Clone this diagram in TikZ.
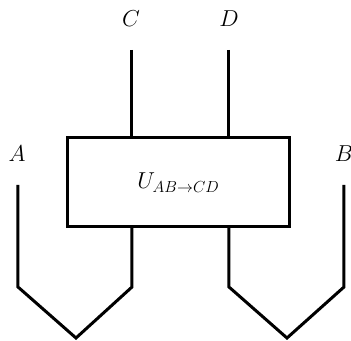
\documentclass[tikz,border=0pt]{standalone}
\usepackage{amsmath,amssymb}
\usetikzlibrary{positioning}
\tikzset{
  wire/.style={line width=2.25pt,line join=miter},
  gatebox/.style={draw,line width=2.25pt,minimum width=167pt,minimum height=66.75pt,inner sep=0pt,outer sep=0pt,font=\fontsize{17}{20}\selectfont},
  lbl/.style={font=\fontsize{17}{20}\selectfont,inner sep=0pt},
}

\begin{document}
\begin{tikzpicture}[x=0.75pt,y=-0.75pt]
    \useasboundingbox (0,0) rectangle (351,341);
    \node[gatebox] (U) at (178.5,182.5) {$U_{AB\rightarrow CD}$};
    % outgoing wires
    \coordinate (ctop) at (132,50);
    \coordinate (dtop) at (229,50);
    \node[lbl] (C) at (131,19) {$C$};
    \node[lbl] (D) at (229,19) {$D$};
    \draw[wire] (ctop) -- (ctop |- U.north);
    \draw[wire] (dtop) -- (dtop |- U.north);
    % incoming wires (cups)
    \node[lbl] (A) at (17,154) {$A$};
    \node[lbl] (B) at (344,154) {$B$};
    \coordinate (atop) at (18,185);
    \coordinate (akink) at (18,287);
    \coordinate (acup) at (76,338);
    \coordinate (ckink) at (132,287);
    \coordinate (dkink) at (229,287);
    \coordinate (bcup) at (287,338);
    \coordinate (bkink) at (344,287);
    \coordinate (btop) at (344,185);
    \draw[wire] (atop) -- (akink) -- (acup) -- (ckink) -- (ckink |- U.south);
    \draw[wire] (dkink |- U.south) -- (dkink) -- (bcup) -- (bkink) -- (btop);
\end{tikzpicture}
\end{document}
